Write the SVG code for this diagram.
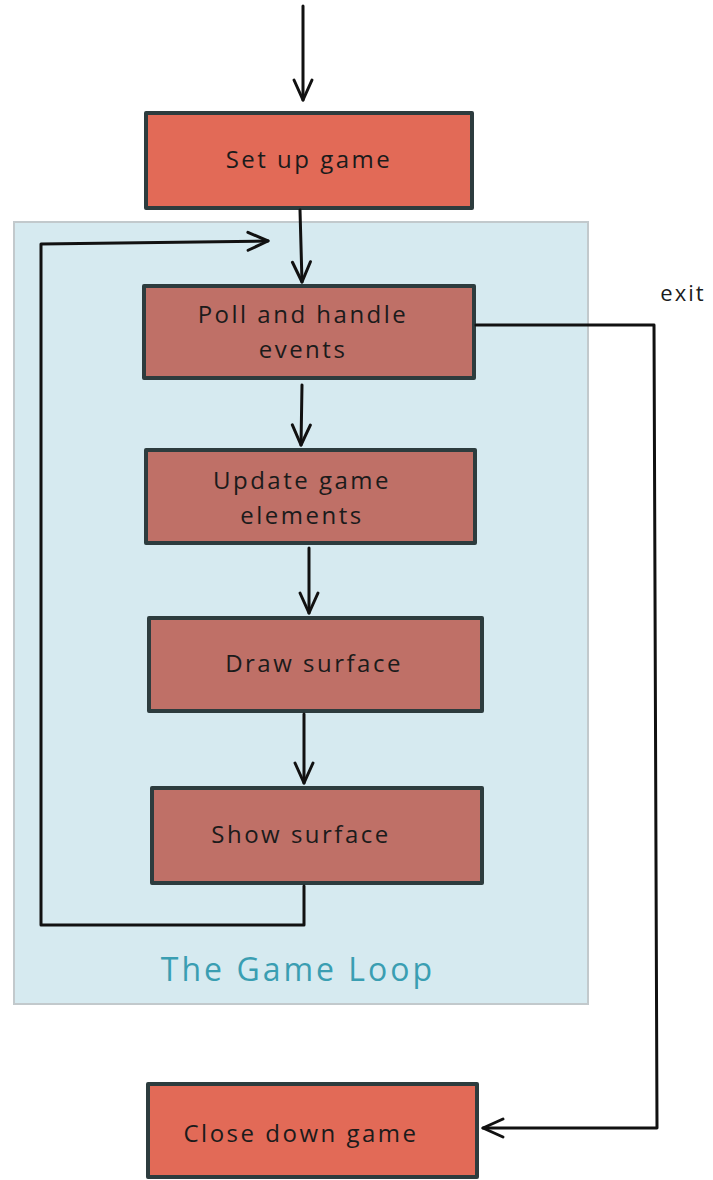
<svg xmlns="http://www.w3.org/2000/svg" width="713" height="1180" viewBox="0 0 713 1180">
<style>
.box{stroke:#2d3c3e;stroke-width:4;stroke-linejoin:round}
.outer{fill:#e26a57}
.inner{fill:#bf7067}
.t{font-family:"Open Sans","DejaVu Sans",sans-serif;font-size:24px;letter-spacing:2.5px;fill:#1b1b1b;text-anchor:middle}
.c{fill:none;stroke:#111;stroke-width:3;stroke-linecap:round;stroke-linejoin:round}
</style>
<defs>
<marker id="ah" viewBox="0 0 24 24" refX="22" refY="12" markerWidth="24" markerHeight="24" markerUnits="userSpaceOnUse" orient="auto">
<path d="M2,3 L22,12 L2,21" fill="none" stroke="#111" stroke-width="3" stroke-linecap="round" stroke-linejoin="round"/>
</marker>
</defs>
<rect width="713" height="1180" fill="#ffffff"/>
<g id="loop-container">
<rect x="14" y="222" width="574" height="782" fill="#d6eaf0" stroke="#c2c9cc" stroke-width="2"/>
<text x="298" y="981" font-family="'Open Sans','DejaVu Sans',sans-serif" font-size="32" letter-spacing="3" fill="#3a9eb2" text-anchor="middle">The Game Loop</text>
</g>
<g id="setup">
<rect class="box outer" x="146" y="113" width="326" height="95"/>
<text class="t" x="309" y="168">Set up game</text>
</g>
<g id="poll">
<rect class="box inner" x="144" y="286" width="330" height="92"/>
<text class="t" x="303" y="323">Poll and handle</text>
<text class="t" x="303" y="358">events</text>
</g>
<g id="update">
<rect class="box inner" x="146" y="450" width="329" height="93"/>
<text class="t" x="302" y="489">Update game</text>
<text class="t" x="302" y="524">elements</text>
</g>
<g id="draw">
<rect class="box inner" x="149" y="618" width="333" height="93"/>
<text class="t" x="314" y="672">Draw surface</text>
</g>
<g id="show">
<rect class="box inner" x="152" y="788" width="330" height="95"/>
<text class="t" x="301" y="843">Show surface</text>
</g>
<g id="close">
<rect class="box outer" x="148" y="1084" width="329" height="93"/>
<text class="t" x="301" y="1142">Close down game</text>
</g>
<g id="connectors">
<path class="c" d="M303,6 L303,100" marker-end="url(#ah)"/>
<path class="c" d="M300,210 L302,282" marker-end="url(#ah)"/>
<path class="c" d="M302,385 L301,445" marker-end="url(#ah)"/>
<path class="c" d="M309,548 L309,613" marker-end="url(#ah)"/>
<path class="c" d="M304,714 L304,783" marker-end="url(#ah)"/>
<path class="c" d="M304,886 L304,925 L41,925 L41,244 L268,241" marker-end="url(#ah)"/>
<path class="c" d="M476,325 L654,325 L657,1128 L483,1128" marker-end="url(#ah)"/>
<text x="683" y="301" font-family="'Open Sans','DejaVu Sans',sans-serif" font-size="22" letter-spacing="2" fill="#1b1b1b" text-anchor="middle">exit</text>
</g>
</svg>
